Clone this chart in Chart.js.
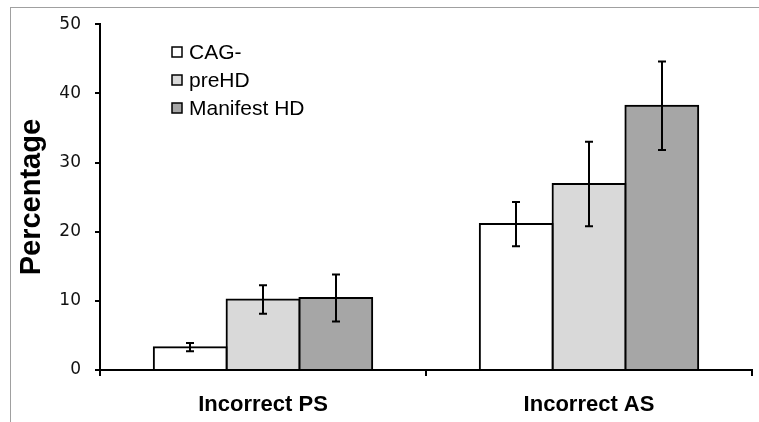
<!DOCTYPE html>
<html>
<head>
<meta charset="utf-8">
<script src="https://cdn.jsdelivr.net/npm/chart.js@4.4.0/dist/chart.umd.min.js"></script>
<style>
  html, body { margin: 0; padding: 0; background: #fff; }
  #wrap { position: relative; width: 759px; height: 422px; }
  #frame { position: absolute; left: 10px; top: 7px; right: 0; bottom: 0;
           border-top: 1px solid #a0a0a0; border-left: 1px solid #a0a0a0; }
  #box { position: absolute; left: 0; top: 0; width: 759px; height: 422px; }
</style>
</head>
<body>
<div id="wrap">
  <div id="frame"></div>
  <div id="box"><canvas id="errors_chart"></canvas></div>
</div>
<script>
const categories = ['Incorrect PS', 'Incorrect AS'];
const groupNames = ['CAG-', 'preHD', 'Manifest HD'];

const cagValues = [3.3, 21.1];
const cagErrors = [0.6, 3.2];
const preValues = [10.2, 26.9];
const preErrors = [2.05, 6.1];
const manifestValues = [10.4, 38.2];
const manifestErrors = [3.4, 6.4];

const fills = ['#ffffff', '#d9d9d9', '#a6a6a6'];
const errors = [cagErrors, preErrors, manifestErrors];

// whiskers on top of each bar
const errorBars = {
  id: 'errorBars',
  afterDatasetsDraw(chart) {
    const ctx = chart.ctx;
    const y = chart.scales.y;
    ctx.save();
    ctx.strokeStyle = '#000';
    ctx.lineWidth = 2;
    chart.data.datasets.forEach((ds, i) => {
      chart.getDatasetMeta(i).data.forEach((bar, j) => {
        const v = ds.data[j];
        const e = ds.errors[j];
        const top = y.getPixelForValue(v + e);
        const bot = y.getPixelForValue(v - e);
        const x = Math.round(bar.x);
        ctx.beginPath();
        ctx.moveTo(x, top);
        ctx.lineTo(x, bot);
        ctx.moveTo(x - 4, top);
        ctx.lineTo(x + 4, top);
        ctx.moveTo(x - 4, bot);
        ctx.lineTo(x + 4, bot);
        ctx.stroke();
      });
    });
    ctx.restore();
  }
};

// small square legend inside the plot
const boxLegend = {
  id: 'boxLegend',
  afterDraw(chart) {
    const ctx = chart.ctx;
    const left = chart.chartArea.left + 72;
    ctx.save();
    ctx.font = '21px "Liberation Sans", Arial, sans-serif';
    ctx.textBaseline = 'middle';
    chart.data.datasets.forEach((ds, i) => {
      const cy = 52 + i * 28;
      ctx.fillStyle = ds.backgroundColor;
      ctx.fillRect(left, cy - 5, 10, 10);
      ctx.strokeStyle = '#000';
      ctx.lineWidth = 1.5;
      ctx.strokeRect(left, cy - 5, 10, 10);
      ctx.fillStyle = '#000';
      ctx.fillText(ds.label, left + 17, cy + 1);
    });
    ctx.restore();
  }
};

const seriesValues = [cagValues, preValues, manifestValues];

new Chart('errors_chart', {
  type: 'bar',
  data: {
    labels: categories,
    datasets: groupNames.map((name, i) => ({
      label: name,
      data: seriesValues[i],
      errors: errors[i],
      backgroundColor: fills[i],
      borderColor: '#000',
      borderWidth: 2,
      inflateAmount: 1,
      categoryPercentage: 0.67,
      barPercentage: 1.0
    }))
  },
  options: {
    responsive: true,
    maintainAspectRatio: false,
    animation: false,
    layout: { padding: { top: 20, right: 7, left: 0, bottom: 0 } },
    plugins: {
      legend: { display: false },
      tooltip: { enabled: false }
    },
    scales: {
      x: {
        grid: { drawOnChartArea: false, tickLength: 6, color: '#000', lineWidth: 2 },
        border: { color: '#000', width: 2 },
        ticks: {
          color: '#000',
          padding: 16,
          font: { family: '"Liberation Sans", Arial, sans-serif', size: 22, weight: 'bold' }
        },
        afterFit(scale) { scale.height = 52; }
      },
      y: {
        min: 0,
        max: 50,
        ticks: {
          stepSize: 10,
          color: '#111',
          padding: 14,
          font: { family: '"DejaVu Sans", sans-serif', size: 17 }
        },
        grid: { drawOnChartArea: false, tickLength: 5, color: '#000', lineWidth: 2 },
        border: { color: '#000', width: 2 },
        title: {
          display: true,
          text: 'Percentage',
          color: '#000',
          padding: { top: 15, bottom: 0 },
          font: { family: '"Liberation Sans", Arial, sans-serif', size: 29, weight: 'bold' }
        },
        afterFit(scale) { scale.width = 100; }
      }
    }
  },
  plugins: [errorBars, boxLegend]
});
</script>
</body>
</html>
